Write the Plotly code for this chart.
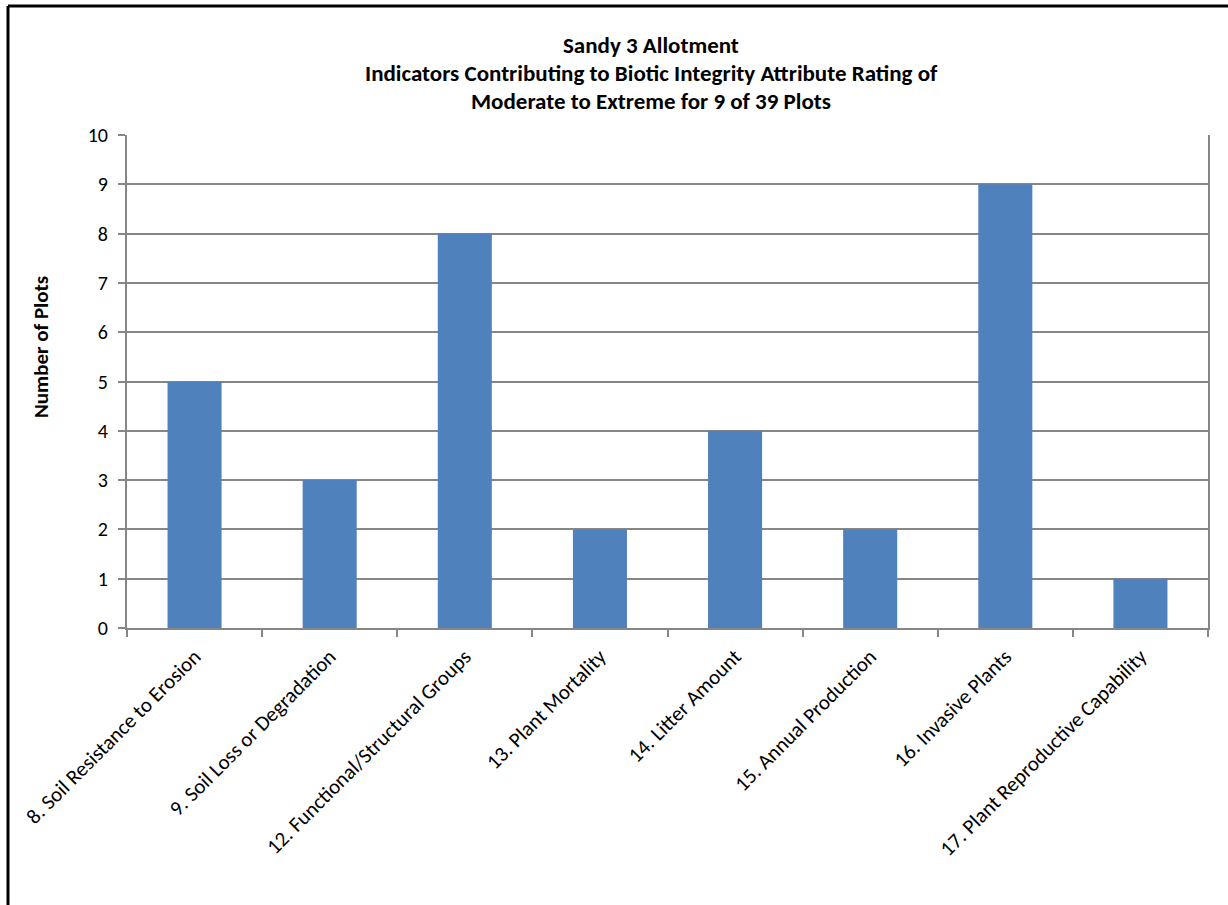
import plotly.graph_objects as go

categories = [
    "8. Soil Resistance to Erosion",
    "9. Soil Loss or Degradation",
    "12. Functional/Structural Groups",
    "13. Plant Mortality",
    "14. Litter Amount",
    "15. Annual Production",
    "16. Invasive Plants",
    "17. Plant Reproductive Capability",
]
values = [5, 3, 8, 2, 4, 2, 9, 1]
title_lines = [
    "Sandy 3 Allotment",
    "Indicators Contributing to Biotic Integrity Attribute Rating of",
    "Moderate to Extreme for 9 of 39 Plots",
]
y_title = "Number of Plots"

W, H = 1228, 905
L, R, T, B = 127, 1208, 135, 628
FONT = "Carlito, Lato, Calibri, sans-serif"
GRID = "#868686"

fig = go.Figure(go.Bar(x=categories, y=values, marker=dict(color="#4F81BD", line=dict(width=0)), width=0.4))

fig.update_layout(
    width=W, height=H,
    margin=dict(l=L, r=W - R, t=T, b=H - B),
    paper_bgcolor="white", plot_bgcolor="white",
    showlegend=False,
    font=dict(family=FONT, color="black", size=21),
    bargap=0.6,
)
fig.update_xaxes(
    showline=True, linecolor=GRID, linewidth=2,
    ticks="outside", tickson="boundaries", ticklen=7, tickwidth=2, tickcolor=GRID,
    tickangle=-45, tickfont=dict(size=21, family=FONT), showgrid=False,
    ticklabelstandoff=6,
)
fig.update_yaxes(
    range=[0, 10], dtick=1, showline=True, mirror=True, linecolor=GRID, linewidth=2,
    showgrid=True, gridcolor=GRID, gridwidth=2,
    ticks="outside", ticklen=7, tickwidth=2, tickcolor=GRID,
    tickfont=dict(size=20, family=FONT), zeroline=False,
    ticklabelstandoff=6,
)

def px_x(p):
    return (p - L) / (R - L)

def px_y(q):
    return (B - q) / (B - T)

for line, yc in zip(title_lines, [45, 73, 101]):
    fig.add_annotation(text="<b>%s</b>" % line, xref="paper", yref="paper",
                       x=px_x(651), y=px_y(yc), showarrow=False,
                       font=dict(size=23, family=FONT), xanchor="center", yanchor="middle")

fig.add_annotation(text="<b>%s</b>" % y_title, xref="paper", yref="paper",
                   x=px_x(41), y=px_y(347), textangle=-90, showarrow=False,
                   font=dict(size=21, family=FONT), xanchor="center", yanchor="middle")

# outer chart frame (left and top edges visible)
fig.add_shape(type="line", xref="paper", yref="paper",
              x0=px_x(8), y0=px_y(6), x1=px_x(1240), y1=px_y(6),
              line=dict(color="black", width=3))
fig.add_shape(type="line", xref="paper", yref="paper",
              x0=px_x(8), y0=px_y(6), x1=px_x(8), y1=px_y(920),
              line=dict(color="black", width=3))

fig.write_html("out.html", config={"displayModeBar": False},
               post_script="document.body.style.margin='0';document.body.style.overflow='hidden';")
